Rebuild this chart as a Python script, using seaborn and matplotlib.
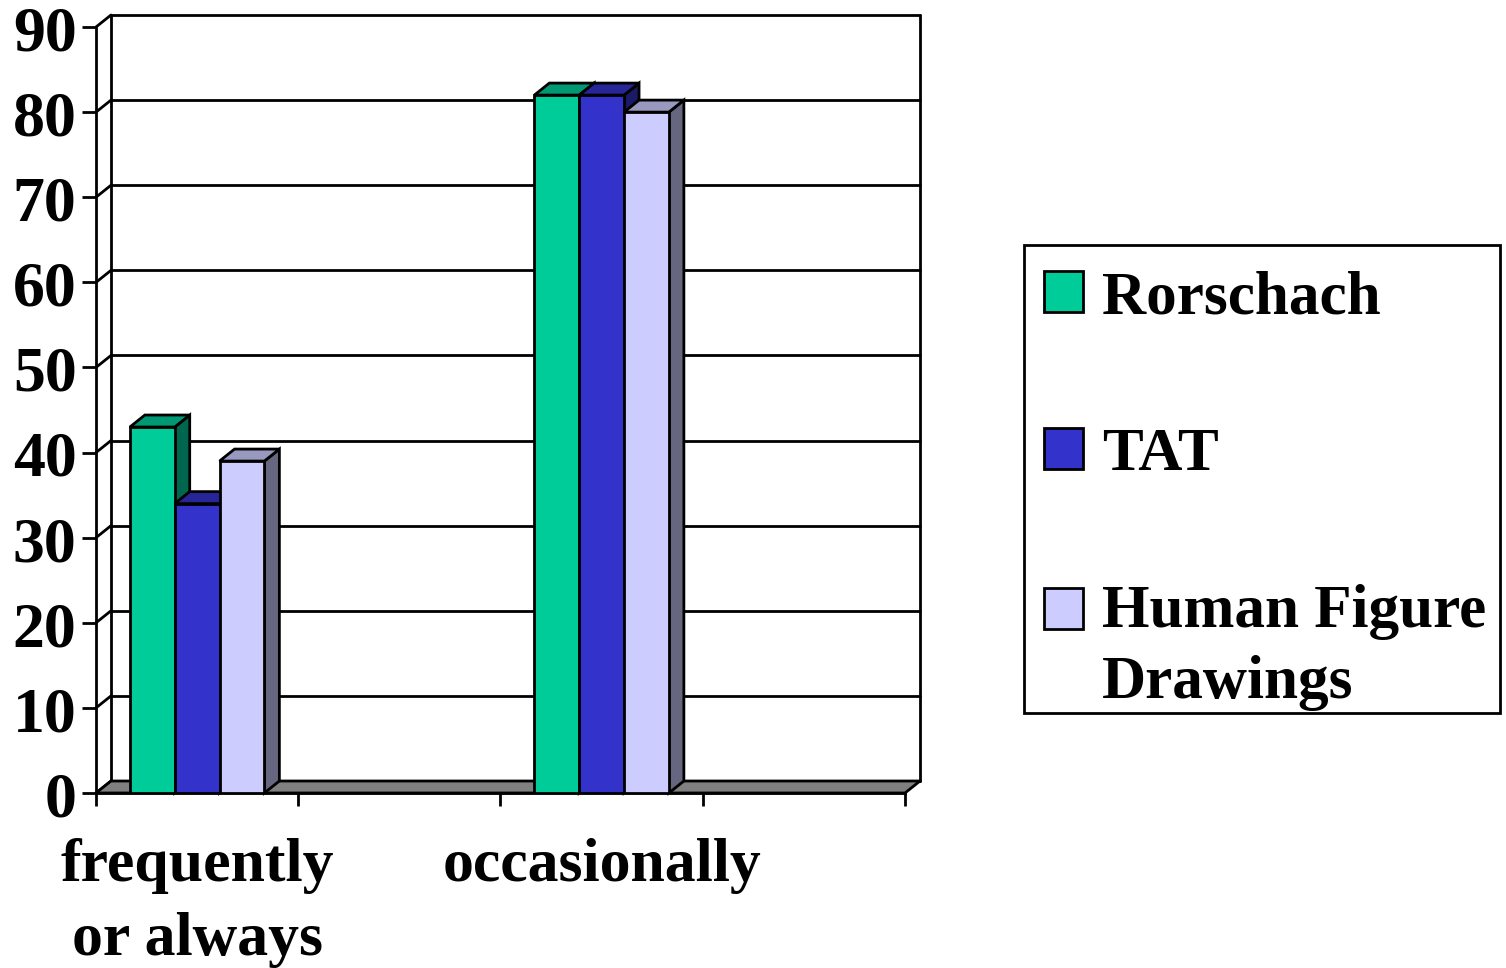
import pandas as pd
import seaborn as sns
import numpy as np
import matplotlib as mpl
mpl.use('Agg')
import matplotlib.pyplot as plt
from matplotlib.colors import to_rgb
from matplotlib.patches import Rectangle
from matplotlib.transforms import ScaledTranslation

slots = ['frequently\nor always', '', 'occasionally', ' ']
groups = ['frequently\nor always', 'occasionally']
rorschach = [43, 82]
tat = [34, 82]
human = [39, 80]
series = ['Rorschach', 'TAT', 'Human Figure\nDrawings']
colors = ['#00CC99', '#3333CC', '#CCCCFF']
yticks = np.arange(0, 100, 10)

W, H = 1506, 968
lw = 2.0
FS = 44
# depth of the fake 3d, in data units
dx = 15 / (809 / 4)
dy = 12 / (766 / 90)

sns.set_style('white')
plt.rcParams['font.family'] = ['Liberation Serif', 'DejaVu Serif']
plt.rcParams['font.weight'] = 'bold'
plt.rcParams['text.color'] = 'black'
plt.rcParams['xtick.color'] = 'black'
plt.rcParams['ytick.color'] = 'black'

df = pd.DataFrame({'group': groups * 3,
                   'value': rorschach + tat + human,
                   'series': np.repeat(series, 2)})

fig = plt.figure(figsize=(W / 100, H / 100), dpi=100)
ax = fig.add_axes([96 / W, 175 / H, 809 / W, 766 / H])
ax.patch.set_visible(False)

sns.barplot(data=df, x='group', y='value', hue='series', order=slots, hue_order=series,
            palette=colors, width=0.665, gap=0, saturation=1, errorbar=None,
            edgecolor='black', linewidth=lw, ax=ax)
ax.set_xlim(-0.5, 3.5)
ax.set_ylim(0, 90)
ax.set_xlabel('')
ax.set_ylabel('')

# back wall, floor and grid
x0, x1 = -0.5, 3.5
ax.fill([x0, x1, x1 + dx, x0 + dx], [0, 0, dy, dy], fc='#808080', ec='black', lw=lw, zorder=1, clip_on=False)
for v in yticks:
    ax.plot([x0 + dx, x1 + dx], [v + dy, v + dy], color='black', lw=lw, zorder=0.5, clip_on=False)
    ax.plot([x0, x0 + dx], [v, v + dy], color='black', lw=lw, zorder=0.5, clip_on=False)
ax.plot([x0 + dx, x0 + dx], [dy, 90 + dy], color='black', lw=lw, zorder=0.5, clip_on=False)
ax.plot([x1 + dx, x1 + dx], [dy, 90 + dy], color='black', lw=lw, zorder=0.5, clip_on=False)

# side and top faces for each bar, left to right
bars = sorted([b for c in ax.containers for b in c], key=lambda p: p.get_x())
z = 3
for b in bars:
    l, r, h = b.get_x(), b.get_x() + b.get_width(), b.get_height()
    c = np.array(to_rgb(b.get_facecolor()[:3]))
    ax.fill([r, r + dx, r + dx, r], [0, dy, h + dy, h], fc=c * 0.5, ec='black', lw=lw, zorder=z, clip_on=False)
    ax.fill([l, l + dx, r + dx, r], [h, h + dy, h + dy, h], fc=c * 0.75, ec='black', lw=lw, zorder=z, clip_on=False)
    b.set_zorder(z + 0.5)
    z += 1

sns.despine(ax=ax)
for s in ['left', 'bottom']:
    ax.spines[s].set_linewidth(lw)
    ax.spines[s].set_color('black')

ax.set_yticks(yticks)
ax.tick_params(axis='y', left=True, length=10, width=lw, pad=4, labelsize=46, color='black')
ax.set_xticks(np.arange(-0.5, 4), labels=[])
ax.set_xticks(range(4), labels=slots, minor=True)
ax.tick_params(axis='x', which='major', bottom=True, length=9.5, width=lw, color='black')
ax.tick_params(axis='x', which='minor', bottom=False, length=0, pad=32.5, labelsize=44.5)
shift = ScaledTranslation(0, -1 / 72, fig.dpi_scale_trans)
for t in ax.get_yticklabels():
    t.set_transform(t.get_transform() + shift)
for t in ax.get_xticklabels(minor=True):
    t.set_linespacing(1.42)

handles, labels = ax.get_legend_handles_labels()
leg = ax.legend(handles, labels, loc='upper left',
                bbox_to_anchor=(1024 / W, 1 - 713 / H, 476 / W, 463 / H), bbox_transform=fig.transFigure,
                mode='expand', borderaxespad=0, borderpad=0.33, labelspacing=1.65,
                handlelength=0.64, handleheight=0.64, handletextpad=0.31,
                prop={'size': FS, 'weight': 'bold'}, frameon=False)
for t in leg.get_texts():
    t.set_linespacing(1.35)
# handle of the two line entry sits on its first line
leg.legend_handles[2].set_y(leg.legend_handles[2].get_y() + 28)
fig.add_artist(Rectangle((1024 / W, 1 - 713 / H), 476 / W, 468 / H, transform=fig.transFigure,
                         fc='none', ec='black', lw=lw))

fig.savefig('out.png', dpi=100)
